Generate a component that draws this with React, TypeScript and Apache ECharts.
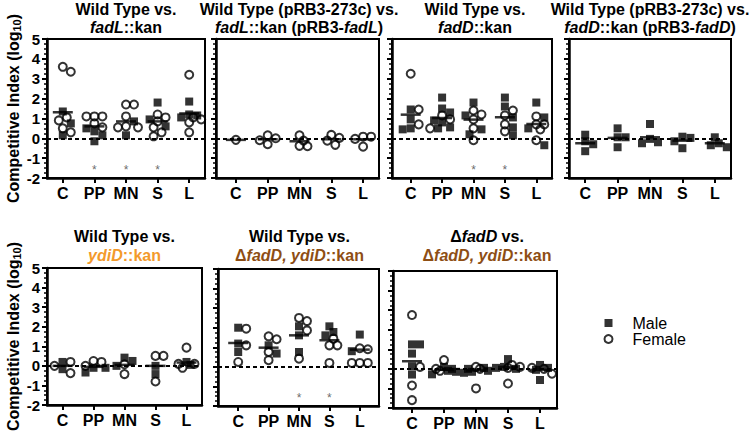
import React, { useEffect, useRef } from "react";
import * as echarts from "echarts";

const FONT = "Arial, 'Liberation Sans', Helvetica, sans-serif";
const ORANGE = "#F39A2B";
const BROWN = "#8E4E14";

const categories = ["C", "PP", "MN", "S", "L"];
const yMin = -2;
const yMax = 5;

// Panel 1: Wild Type vs. fadL::kan
const fadLMale = [[1.35, 0.75, 0.15], [-0.15, 0.15, 0.5, 0.35], [0.85, 0.15], [1.8, 0.95, 0.6], [1.85, 1.15, 1.05, 1.2]];
const fadLFemale = [[3.6, 3.35, 0.9, 1.05, 0.5, 0.3], [1.1, 1.1, 1.1, 0.75, 0.55], [1.7, 1.7, 1.1, 0.55, 0.6, 0.55], [1.2, 1.05, 0.85, 0.55, 0.3, 0.1], [3.2, 1.05, 0.95, 0.8, 0.3]];
const fadLMean = [1.31, 0.6, 0.85, 0.85, 1.25];
const fadLStars = ["PP", "MN", "S"];

// Panel 2: complemented fadL
const fadLCompMale: number[][] = [[], [], [], [], []];
const fadLCompFemale = [[-0.08], [0.0, -0.3, -0.1, 0.15], [-0.12, -0.4, -0.38, 0.15], [0.02, -0.33, -0.12, 0.17], [0.08, -0.42, -0.03, 0.08]];
const fadLCompMean = [-0.08, -0.05, -0.15, -0.05, -0.05];
const fadLCompStars: string[] = [];

// Panel 3: Wild Type vs. fadD::kan
const fadDMale = [[1.45, 0.95, 0.45, 0.5], [2.05, 1.5, 1.3, 0.9, 0.8, 0.55, 0.5], [1.8, 1.15, 0.45, 0.2], [2.05, 1.6, 1.05, 0.55, 0.15], [1.8, 1.05, -0.35, 0.5]];
const fadDFemale = [[3.25, 1.45, 0.7], [1.15, 0.95, 0.5], [1.4, 1.2, 0.95, 0.5, -0.1], [1.4, 1.15, 0.7, 0.35], [1.1, 0.7, 0.7, 0.45, -0.1]];
const fadDMean = [1.19, 1.02, 0.94, 1.06, 0.72];
const fadDStars = ["MN", "S"];

// Panel 4: complemented fadD
const fadDCompMale = [[0.18, -0.65, -0.3, -0.15], [0.5, 0.05, -0.45, 0.05], [0.72, -0.03, -0.25, -0.2], [0.08, 0.02, -0.5, -0.15], [0.05, -0.45, -0.35, -0.25]];
const fadDCompFemale: number[][] = [[], [], [], [], []];
const fadDCompMean = [-0.25, 0.02, 0.05, -0.12, -0.25];
const fadDCompStars: string[] = [];

// Panel 5: Wild Type vs. ydiD::kan
const ydiDMale = [[0.2, -0.17], [-0.34, -0.1, -0.1], [0.42, 0.25, 0.0], [-0.42, 0.0], [0.2, 0.05]];
const ydiDFemale = [[0.2, -0.37, 0.0], [0.25, 0.2, 0.0], [0.08, -0.42], [0.51, 0.51, -0.8], [0.93, 0.1, -0.1, 0.1]];
const ydiDMean = [0.0, -0.05, 0.05, 0.0, 0.17];
const ydiDStars: string[] = [];

// Panel 6: Wild Type vs. ΔfadD, ydiD::kan
const dblMale = [[2.0, 0.76, 1.19], [1.1, 0.68], [2.07, 1.61, 0.76], [1.78, 2.07, 1.61], [1.65, 0.8]];
const dblFemale = [[1.95, 1.1, 0.25], [1.41, 1.56, 0.76, 0.34], [2.34, 2.5, 1.86, 0.42], [1.44, 1.1, 1.1, 0.2], [0.2, 0.2, 0.2, 0.95, 0.9]];
const dblMean = [1.22, 0.98, 1.61, 1.36, 0.88];
const dblStars = ["MN", "S"];

// Panel 7: ΔfadD vs. ΔfadD, ydiD::kan
const dfadMale = [[1.25, 1.25, 0.78, 0.13, -0.29], [0.0, -0.28, 0.1, -0.1, -0.15], [0.05, -0.15, -0.1, 0.0, -0.2], [0.5, 0.0, 0.1, 0.05], [0.2, -0.57, -0.05, 0.05]];
const dfadFemale = [[2.75, 0.1, -0.85, -1.6], [0.45, -0.1, 0.0], [-1.0, 0.1, 0.0], [-0.75, 0.2, 0.05, 0.1], [0.05, -0.25, 0.0]];
const dfadMean = [0.39, -0.05, -0.08, 0.1, -0.05];
const dfadStars: string[] = [];

const titles = [
  "Wild Type vs.\n{i|fadL}::kan",
  "Wild Type (pRB3-273c) vs.\n{i|fadL}::kan (pRB3-{i|fadL})",
  "Wild Type vs.\n{i|fadD}::kan",
  "Wild Type (pRB3-273c) vs.\n{i|fadD}::kan (pRB3-{i|fadD})",
  "Wild Type vs.\n{oi|ydiD}{o|::kan}",
  "Wild Type vs.\n{b|Δ}{bi|fadD, ydiD}{b|::kan}",
  "Δ{i|fadD} vs.\n{b|Δ}{bi|fadD, ydiD}{b|::kan}",
];

const panelData = [
  { male: fadLMale, female: fadLFemale, mean: fadLMean, stars: fadLStars },
  { male: fadLCompMale, female: fadLCompFemale, mean: fadLCompMean, stars: fadLCompStars },
  { male: fadDMale, female: fadDFemale, mean: fadDMean, stars: fadDStars },
  { male: fadDCompMale, female: fadDCompFemale, mean: fadDCompMean, stars: fadDCompStars },
  { male: ydiDMale, female: ydiDFemale, mean: ydiDMean, stars: ydiDStars },
  { male: dblMale, female: dblFemale, mean: dblMean, stars: dblStars },
  { male: dfadMale, female: dfadFemale, mean: dfadMean, stars: dfadStars },
];

// layout (pixels): frame box, side padding of the category range, title centre
const layouts = [
  { left: 47, top: 39, width: 158, height: 139, padL: 0, padR: 0, titleX: 126, titleTop: 0, lh: 18, labels: true },
  { left: 216, top: 39, width: 163, height: 139, padL: 4, padR: 0, titleX: 299, titleTop: 0, lh: 18, labels: false },
  { left: 392, top: 39, width: 160, height: 139, padL: 3, padR: 0, titleX: 475, titleTop: 0, lh: 18, labels: false },
  { left: 569, top: 39, width: 162, height: 139, padL: 0, padR: 0, titleX: 650, titleTop: 0, lh: 18, labels: false },
  { left: 47, top: 268, width: 155, height: 137, padL: 0, padR: 0, titleX: 124.5, titleTop: 227, lh: 19, labels: true },
  { left: 218, top: 269, width: 161, height: 137, padL: 5, padR: 4, titleX: 299.5, titleTop: 227, lh: 19, labels: false },
  { left: 393, top: 271, width: 164, height: 137, padL: 3, padR: 1, titleX: 487, titleTop: 227, lh: 19, labels: false },
];

const STAR_LEVEL = -1.6;

// simple beeswarm: spread overlapping points sideways within a category
function swarm(male: number[], female: number[], pxX: number, pxY: number) {
  const pts = [
    ...male.map((v) => ({ v, s: "m" })),
    ...female.map((v) => ({ v, s: "f" })),
  ].sort((a, b) => b.v - a.v);
  const placed: { xp: number; yp: number; s: string; v: number }[] = [];
  const step = 4;
  const minD = 6.5;
  for (const p of pts) {
    const yp = p.v * pxY;
    let best = 0;
    let bestD = -1;
    for (const k of [0, 1, -1, 2, -2, 3, -3]) {
      const xp = k * step;
      let d = Infinity;
      for (const q of placed) d = Math.min(d, Math.hypot(q.xp - xp, q.yp - yp));
      if (d >= minD) {
        best = xp;
        bestD = d;
        break;
      }
      if (d > bestD) {
        bestD = d;
        best = xp;
      }
    }
    placed.push({ xp: best, yp, s: p.s, v: p.v });
  }
  return placed.map((q) => ({ off: q.xp / pxX, v: q.v, s: q.s }));
}

function buildOption() {
  const catCenters = categories.map((_, c) => c + 0.5);
  const grid: any[] = [];
  const xAxis: any[] = [];
  const yAxis: any[] = [];
  const series: any[] = [];
  const title: any[] = [];

  layouts.forEach((L, i) => {
    const D = panelData[i];
    const richBase = { fontWeight: "bold", fontSize: 16, fontFamily: FONT, lineHeight: L.lh };
    const rich = {
      i: { ...richBase, fontStyle: "italic", color: "#000" },
      o: { ...richBase, color: ORANGE },
      oi: { ...richBase, fontStyle: "italic", color: ORANGE },
      b: { ...richBase, color: BROWN },
      bi: { ...richBase, fontStyle: "italic", color: BROWN },
    };
    const band = (L.width - L.padL - L.padR) / categories.length;
    grid.push({
      left: L.left,
      top: L.top,
      width: L.width,
      height: L.height,
      show: true,
      borderColor: "#000",
      borderWidth: 2,
      backgroundColor: "transparent",
    });
    title.push({
      text: titles[i],
      left: L.titleX,
      top: L.titleTop,
      textAlign: "center",
      padding: 0,
      textStyle: { ...richBase, color: "#000", rich },
    });
    xAxis.push({
      type: "value",
      gridIndex: i,
      min: -L.padL / band,
      max: categories.length + L.padR / band,
      axisLine: { onZero: false, lineStyle: { color: "#000", width: 2.5 } },
      axisTick: { show: true, customValues: catCenters, length: 5, lineStyle: { color: "#000", width: 2 } },
      axisLabel: {
        customValues: catCenters,
        formatter: (v: number) => categories[Math.round(v - 0.5)] ?? "",
        color: "#000",
        fontFamily: FONT,
        fontWeight: "bold",
        fontSize: 16,
        margin: 7,
      },
      splitLine: { show: false },
    });
    yAxis.push({
      type: "value",
      gridIndex: i,
      min: yMin,
      max: yMax,
      interval: 1,
      axisLine: { show: true, onZero: false, lineStyle: { color: "#000", width: 2.5 } },
      axisTick: { show: true, length: 5, lineStyle: { color: "#000", width: 2 } },
      minorTick: { show: true, splitNumber: 4, length: 3, lineStyle: { color: "#000", width: 1.5 } },
      splitLine: { show: false },
      axisLabel: {
        show: L.labels,
        color: "#000",
        fontFamily: FONT,
        fontWeight: "bold",
        fontSize: 15,
        margin: 7,
      },
      name: L.labels ? "Competitive Index (log{sub|10})" : "",
      nameLocation: "middle",
      nameGap: 24,
      nameRotate: 90,
      nameTextStyle: {
        color: "#000",
        fontFamily: FONT,
        fontWeight: "bold",
        fontSize: 16,
        rich: {
          sub: { fontFamily: FONT, fontWeight: "bold", fontSize: 11, color: "#000", padding: [7, 0, 0, 0] },
        },
      },
    });

    const pxY = L.height / (yMax - yMin);
    const maleData: number[][] = [];
    const femaleData: number[][] = [];
    categories.forEach((_, c) => {
      swarm(D.male[c], D.female[c], band, pxY).forEach((p) => {
        const pt = [c + 0.5 + p.off, p.v];
        if (p.s === "m") maleData.push(pt);
        else femaleData.push(pt);
      });
    });
    series.push({
      type: "scatter",
      name: "Female",
      xAxisIndex: i,
      yAxisIndex: i,
      data: femaleData,
      symbol: "circle",
      symbolSize: 8,
      itemStyle: { color: "rgba(255,255,255,0)", borderColor: "#000", borderWidth: 2 },
      z: 3,
    });
    series.push({
      type: "scatter",
      name: "Male",
      xAxisIndex: i,
      yAxisIndex: i,
      data: maleData,
      symbol: "rect",
      symbolSize: 8,
      itemStyle: { color: "#000" },
      z: 4,
    });
    series.push({
      type: "scatter",
      name: "mean" + i,
      xAxisIndex: i,
      yAxisIndex: i,
      data: D.mean.map((m, c) => [c + 0.5, m]),
      symbol: "rect",
      symbolSize: [20, 2.5],
      itemStyle: { color: "#000" },
      silent: true,
      z: 5,
      markLine: {
        silent: true,
        symbol: "none",
        data: [{ yAxis: 0 }],
        label: { show: false },
        lineStyle: { type: [4, 3], width: 2, color: "#000" },
      },
    });
    series.push({
      type: "scatter",
      name: "stars" + i,
      xAxisIndex: i,
      yAxisIndex: i,
      data: D.stars.map((s) => [categories.indexOf(s) + 0.5, STAR_LEVEL]),
      symbolSize: 0,
      silent: true,
      label: {
        show: true,
        position: "inside",
        formatter: "*",
        color: "#444",
        fontFamily: FONT,
        fontSize: 12,
      },
    });
  });

  return {
    animation: false,
    backgroundColor: "#fff",
    title,
    grid,
    xAxis,
    yAxis,
    series,
    legend: {
      orient: "vertical",
      left: 603.5,
      top: 315,
      padding: 0,
      itemWidth: 8,
      itemHeight: 8,
      itemGap: 0,
      selectedMode: false,
      textStyle: { color: "#000", fontFamily: FONT, fontSize: 16, lineHeight: 16, padding: [0, 0, 0, 15] },
      data: [
        { name: "Male", icon: "rect", itemStyle: { color: "#000" } },
        {
          name: "Female",
          icon: "circle",
          itemStyle: { color: "rgba(255,255,255,0)", borderColor: "#000", borderWidth: 2 },
        },
      ],
    },
  };
}

export default function App() {
  const ref = useRef<HTMLDivElement>(null);
  useEffect(() => {
    const chart = echarts.init(ref.current!, null, { renderer: "svg" });
    chart.setOption(buildOption() as any);
    return () => chart.dispose();
  }, []);
  return (
    <div
      ref={ref}
      style={{ position: "fixed", left: 0, top: 0, width: 750, height: 435, background: "#fff" }}
    />
  );
}
